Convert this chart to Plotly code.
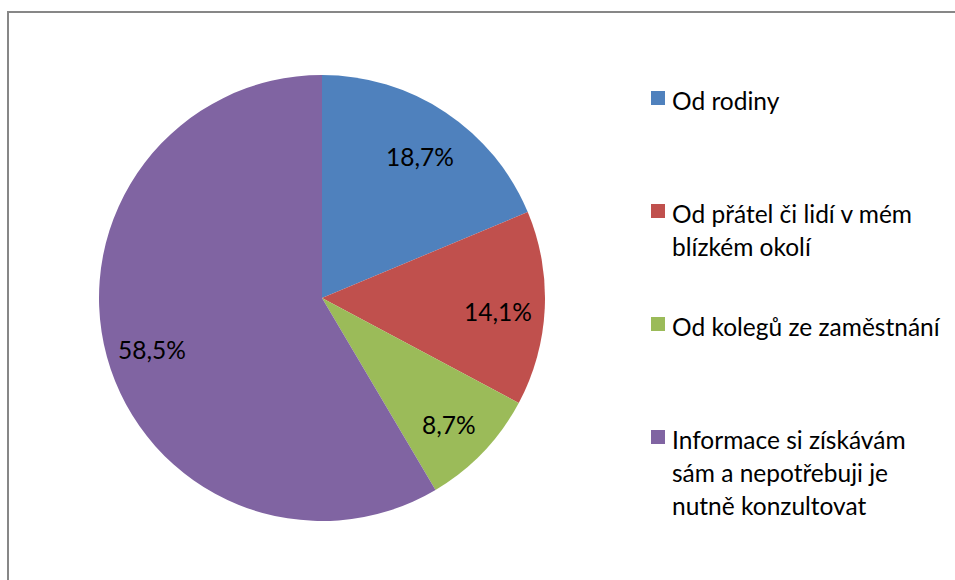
import math
import plotly.graph_objects as go

categories = [
    "Od rodiny",
    "Od přátel či lidí v mém blízkém okolí",
    "Od kolegů ze zaměstnání",
    "Informace si získávám sám a nepotřebuji je nutně konzultovat",
]
values = [18.7, 14.1, 8.7, 58.5]
legend_lines = [
    ["Od rodiny"],
    ["Od přátel či lidí v mém", "blízkém okolí"],
    ["Od kolegů ze zaměstnání"],
    ["Informace si získávám", "sám a nepotřebuji je", "nutně konzultovat"],
]
colors = ["#4F81BD", "#C0504D", "#9BBB59", "#8064A2"]

W, H = 955, 580
FONT = "Lato"
FS = 24.5

texts = [f"{v:.1f}".replace(".", ",") + "%" for v in values]

cx, cy, R = 322, 298, 223

fig = go.Figure(
    go.Pie(
        labels=categories,
        values=values,
        textinfo="none",
        sort=False,
        direction="clockwise",
        rotation=0,
        marker=dict(colors=colors, line=dict(width=0)),
        showlegend=False,
        hoverinfo="label+percent",
        domain=dict(
            x=[(cx - R) / W, (cx + R) / W],
            y=[1 - (cy + R) / H, 1 - (cy - R) / H],
        ),
    )
)

shapes = [
    dict(
        type="rect", xref="paper", yref="paper",
        x0=8 / W, x1=1.02, y0=-0.02, y1=1 - 12 / H,
        line=dict(color="#878787", width=2), fillcolor="rgba(0,0,0,0)",
    )
]
annotations = []

# data labels placed along each slice's mid-angle (derived from the values)
total = sum(values)
cum = 0.0
r_lab = 0.79 * R
for v, t in zip(values, texts):
    mid = (cum + v / 2) / total * 2 * math.pi
    cum += v
    px = cx + r_lab * math.sin(mid)
    py = cy - r_lab * math.cos(mid) + 5
    annotations.append(
        dict(
            text=t, xref="paper", yref="paper",
            x=px / W, y=1 - py / H,
            xanchor="center", yanchor="middle", showarrow=False,
            font=dict(family=FONT, size=FS, color="#000000"),
        )
    )

first_line_y = 98
item_step = 113
line_step = 33
for k, lines in enumerate(legend_lines):
    yc = first_line_y + item_step * k
    shapes.append(
        dict(
            type="rect", xref="paper", yref="paper",
            x0=651 / W, x1=665 / W, y0=1 - (yc + 7) / H, y1=1 - (yc - 7) / H,
            line=dict(width=0), fillcolor=colors[k],
        )
    )
    for i, ln in enumerate(lines):
        annotations.append(
            dict(
                text=ln, xref="paper", yref="paper",
                x=670 / W, y=1 - (yc + 2 + line_step * i) / H,
                xanchor="left", yanchor="middle", showarrow=False,
                font=dict(family=FONT, size=FS, color="#000000"),
            )
        )

fig.update_layout(
    width=W, height=H,
    margin=dict(l=0, r=0, t=0, b=0),
    paper_bgcolor="white",
    plot_bgcolor="white",
    shapes=shapes,
    annotations=annotations,
)

fig.write_html(
    "out.html",
    config={"displayModeBar": False},
    post_script="document.body.style.margin='0px';document.body.style.overflow='hidden';",
)
